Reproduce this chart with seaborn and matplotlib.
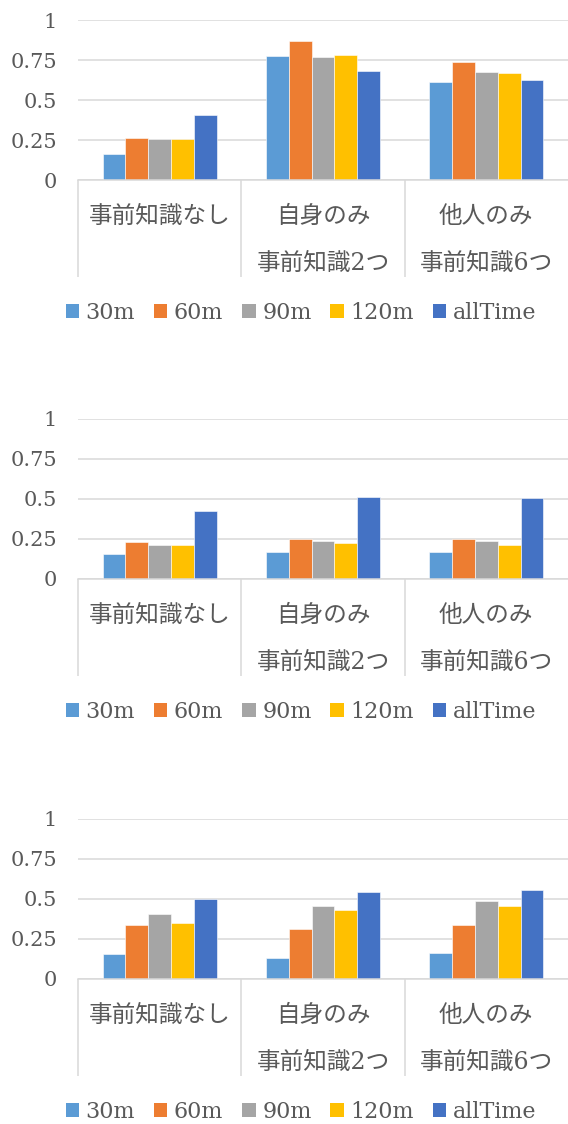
import matplotlib
matplotlib.use("Agg")
import matplotlib.pyplot as plt
from matplotlib.patches import Patch
import pandas as pd
import seaborn as sns

# Conditions on the x axis (two-line labels where the condition has a sub-note)
conditions = ["事前知識なし", "自身のみ\n事前知識2つ", "他人のみ\n事前知識6つ"]
periods = ["30m", "60m", "90m", "120m", "allTime"]
y_ticks = [0, 0.25, 0.5, 0.75, 1]
y_tick_labels = ["0", "0.25", "0.5", "0.75", "1"]

# Scores per period, one list per condition, for each of the three panels
panel1 = {
    "30m":     [0.16, 0.777, 0.612],
    "60m":     [0.26, 0.867, 0.735],
    "90m":     [0.255, 0.771, 0.675],
    "120m":    [0.255, 0.783, 0.669],
    "allTime": [0.406, 0.679, 0.627],
}
panel2 = {
    "30m":     [0.159, 0.167, 0.167],
    "60m":     [0.232, 0.251, 0.251],
    "90m":     [0.215, 0.24, 0.238],
    "120m":    [0.215, 0.228, 0.215],
    "allTime": [0.427, 0.515, 0.508],
}
panel3 = {
    "30m":     [0.158, 0.129, 0.162],
    "60m":     [0.34, 0.31, 0.335],
    "90m":     [0.404, 0.454, 0.49],
    "120m":    [0.352, 0.433, 0.458],
    "allTime": [0.498, 0.544, 0.556],
}

colors = ["#5B9BD5", "#ED7D31", "#A5A5A5", "#FFC000", "#4472C4"]
text_color = "#595959"
grid_color = "#D9D9D9"
fonts = ["DejaVu Serif", "Noto Sans CJK JP"]

sns.set_theme(style="white")
plt.rcParams["font.family"] = fonts
plt.rcParams["text.color"] = text_color

W, H = 568, 1124
fig = plt.figure(figsize=(W / 100, H / 100), dpi=100)

left_px, right_px = 78, 568
axis_px = 160
zero_rows = [180, 579, 979]


def draw_panel(ax, data):
    rows = []
    for p in periods:
        for c, v in zip(conditions, data[p]):
            rows.append({"cond": c, "period": p, "value": v})
    df = pd.DataFrame(rows)
    sns.barplot(data=df, x="cond", y="value", hue="period",
                order=conditions, hue_order=periods, palette=colors,
                saturation=1, width=0.7, ax=ax, legend=False,
                edgecolor="white", linewidth=0.4, errorbar=None)
    ax.set_ylim(0, 1)
    ax.set_xlim(-0.5, 2.5)
    ax.set_xlabel("")
    ax.set_ylabel("")
    ax.set_yticks(y_ticks)
    ax.set_yticklabels(y_tick_labels)
    ax.set_xticks(range(len(conditions)))
    ax.set_xticklabels(conditions, linespacing=2.32, va="top")
    ax.yaxis.grid(True, color=grid_color, linewidth=1.1)
    ax.set_axisbelow(True)
    for side in ("top", "right", "left"):
        ax.spines[side].set_visible(False)
    ax.spines["bottom"].set_color(grid_color)
    ax.spines["bottom"].set_linewidth(1.1)
    ax.tick_params(axis="y", length=0, pad=15, labelsize=15, labelcolor=text_color)
    ax.tick_params(axis="x", which="major", bottom=True, length=0, pad=18,
                   labelsize=17, labelcolor=text_color)
    # category separators hanging below the axis
    ax.set_xticks([-0.5, 0.5, 1.5], minor=True)
    ax.tick_params(axis="x", which="minor", bottom=True, length=70, width=1.1,
                   color=grid_color, direction="out")
    handles = [Patch(facecolor=c, edgecolor="none") for c in colors]
    ax.legend(handles, periods, loc="center", bbox_to_anchor=(0.455, -0.83),
              ncol=5, frameon=False, fontsize=16, handlelength=0.6,
              handleheight=0.6, handletextpad=0.3, columnspacing=0.85,
              labelcolor=text_color)


for zero, data in zip(zero_rows, [panel1, panel2, panel3]):
    ax = fig.add_axes([left_px / W, 1 - zero / H,
                       (right_px - left_px) / W, axis_px / H])
    draw_panel(ax, data)

fig.savefig("out.png", dpi=100)
